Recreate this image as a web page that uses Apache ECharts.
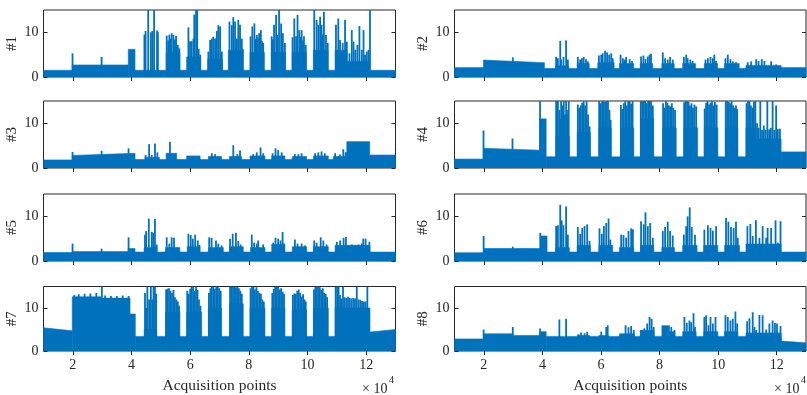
<!DOCTYPE html>
<html>
<head>
<meta charset="utf-8">
<script src="https://cdn.jsdelivr.net/npm/echarts@6/dist/echarts.min.js"></script>
<style>
  html, body { margin: 0; padding: 0; background: #ffffff; }
  #chart { width: 807px; height: 395px; }
</style>
</head>
<body>
<div id="chart"></div>
<script>
// Eight EMG channels, amplitude vs. acquisition point index.
// Positions are given in thousands of acquisition points.
// *Fill: [start, end, level, endLevel?] solid bands of the dense signal
//        (endLevel given where the band drifts linearly).
// *Peaks: [position, amplitude] individual spikes above the band.

const xTickValues = [20000, 40000, 60000, 80000, 100000, 120000];
const yTickValues = [0, 10];
const channelNames = ['#1', '#2', '#3', '#4', '#5', '#6', '#7', '#8'];

const ch1Fill = [[10,19.8,1.5],[19.8,38.9,2.7],[38.9,41.2,6.2],[41.2,130,1.5],
  [51.8,56.5,5.5],[58.8,63.6,4.5],[66.0,71.0,4],[73.0,78.1,6],[80.4,85.3,5.5],[87.8,92.5,5.5],
  [94.8,99.6,5.5],[102,107,6],[109.4,113.5,6],[113.5,121.2,3.5]];
const ch1Peaks = [[19.9,5.3],[29.8,4.5],
  [44.4,9.5],[44.8,10.3],[45.7,15],[46.6,10],[47.1,10.3],[47.7,15],[48.7,10.4],[49.0,10],
  [52.0,9.25],[52.5,8.2],[52.9,9.5],[53.3,8.6],[53.7,9.8],[54.3,9.4],[54.8,8.4],[55.2,9.2],[55.8,7.2],[56.3,6.4],
  [59.4,11.1],[59.95,8],[60.5,8],[61.1,8.6],[61.4,14],[62.0,15],[62.4,15],[62.9,6.3],[63.4,5.0],
  [66.2,5.7],[66.8,8.3],[67.4,8.6],[67.9,9.0],[68.5,8.6],[69.1,10.3],[69.6,11.6],[70.2,11.3],[70.8,5.7],
  [73.4,12.4],[74.2,11.6],[74.7,13.4],[75.3,12.4],[75.9,8.6],[76.4,12.8],[77.0,11.7],[77.6,8.6],[77.9,6.3],
  [80.6,9.1],[81.2,11.3],[81.9,12.0],[82.3,8.5],[82.7,9.4],[83.1,8.8],[83.5,9.8],[84.1,10.5],[84.5,8.0],[84.9,7.6],
  [87.8,9.1],[88.2,8.4],[88.6,11.7],[89.3,13.9],[89.8,9.4],[90.3,15],[91.0,12],[91.6,9.8],[92.3,7.6],
  [94.9,8.9],[95.5,13.1],[96.1,9.1],[96.6,13.9],[97.2,10.5],[97.6,9.0],[98.0,10.5],[98.4,8.2],[98.8,9.1],[99.4,7.2],
  [102.3,15],[103.1,12.8],[103.7,11.7],[104.3,13.5],[104.8,11.7],[105.2,9.5],[105.6,14.6],[106.3,9.4],[106.9,7.6],
  [109.7,11.7],[110.5,13.1],[111.1,8.3],[112.0,7.6],[112.8,12.8],[113.4,7.9],[114.3,5.3],[115.1,10.5],
  [115.7,7.9],[116.3,6.1],[117.0,7.2],[117.7,11.4],[118.5,6.1],[119.1,10.5],[119.6,5.0],[120.2,5.7],
  [120.8,6.1],[121.3,15]];

const ch2Fill = [[10,19.9,2.1],[19.9,40.7,3.8,3.2],[40.7,121.5,1.9],[121.5,130,2.1],
  [44.5,49,2.5],[51.9,56,3],[58.9,64.5,3.2],[66.3,71.2,3],[73.4,77.7,3],[80.8,85,3],[87.9,92.3,3],
  [95.3,99.8,3],[102.2,107.2,3],[109.5,121.5,2.6]];
const ch2Peaks = [[29.9,4.4],
  [44.7,4.5],[45.3,4.2],[46.1,8.1],[46.4,3.9],[47.2,4.5],[48.1,8.2],[48.7,3.9],
  [52.1,4.5],[52.9,3.9],[53.5,4.2],[54.1,4.5],[54.9,4.0],[55.5,3.5],
  [59.3,4.8],[60.1,5.0],[60.6,5.3],[61.4,5.9],[62.1,5.5],[62.8,5.0],[63.5,5.3],[64.0,4.2],
  [66.7,5.0],[67.5,4.2],[68.1,3.9],[68.6,4.5],[69.8,4.0],[70.6,3.6],
  [73.7,4.6],[74.5,4.8],[75.2,4.0],[76.0,4.6],[76.6,5.0],[77.1,5.2],
  [81.1,5.5],[81.9,4.2],[82.8,3.9],[83.6,4.5],[84.5,3.9],
  [88.3,4.5],[89.1,5.0],[89.6,4.2],[90.5,3.9],[91.3,3.6],
  [95.7,3.9],[96.5,4.2],[97.4,4.5],[98.2,4.2],[98.7,5.0],[99.3,3.6],
  [102.5,4.2],[103.3,5.0],[104.2,4.0],[105.0,3.5],[106.1,3.3],
  [110.1,3.3],[111.3,3.5],[113.0,4.0],[113.8,3.6],[114.9,4.0],[115.8,3.6],[118.1,3.5],[119.8,2.8]];

const ch3Fill = [[10,19.8,1.8],[19.8,41.2,2.8,3.3],[41.2,121.2,1.9],[121.2,130,2.9],
  [44.6,49.5,2.4],[51.8,55.4,3.3],[58.8,63.4,2.7],[66.2,70.7,2.6],[73.4,77.5,2.6],[80.4,85.5,2.7],
  [87.8,92.3,2.7],[94.8,99.7,2.6],[102,107.1,2.7],[108.8,112.8,2.6],[112.8,113.4,3.5],[113.4,121.2,5.9]];
const ch3Peaks = [[19.9,3.6],[29.8,3.85],[39.0,4.4],
  [44.8,2.9],[46.0,5.3],[46.9,2.9],[48.0,5.5],[48.8,3.5],[53.1,5.9],
  [67.4,3.3],[68.5,3.1],[74.7,5.1],[76.1,3.1],[77.0,3.9],
  [81.5,3.1],[82.7,3.5],[84.0,4.6],[84.9,3.3],
  [88.1,3.3],[89.1,4.4],[90.0,4.0],[91.2,3.5],
  [95.7,3.1],[96.9,3.1],[98.0,3.3],
  [102.6,3.3],[103.7,3.5],[104.8,3.7],[105.9,3.3],
  [109.4,3.3],[111.1,3.0],[112.2,4.2]];

const ch4Fill = [[10,19.9,2.0],[19.9,39.1,4.4,4.0],[39.1,41.3,11.0],[41.3,121.5,2.5],[121.5,130,3.6],
  [44.6,49.2,7],[51.9,56.4,8],[59.3,63.5,9],[66.7,71.2,9],[73.5,78.0,11],[81.1,85.7,9],
  [88.3,93.0,9],[95.3,99.9,9],[102.5,106.7,9],[109.5,113,9],[113,121.5,6.5]];
const ch4Peaks = [[19.9,8.4],[29.8,6.6],[39.2,15],
  [44.7,15],[45.0,12],[45.3,15],[45.8,13],[46.1,11],[46.4,15],[47.0,14],[47.3,15],[47.7,12],[48.1,15],[48.4,13],[48.7,12],[49.0,15],
  [52.1,14.2],[52.6,13.5],[53.1,14.0],[53.6,14.6],[54.1,15],[54.6,14.0],[55.1,15],[55.6,12],[56.1,9.3],
  [59.4,15],[59.9,14.5],[60.4,15],[60.9,15],[61.4,14.8],[61.9,15],[62.4,15],[62.9,13],[63.3,10.8],
  [66.8,14.1],[67.3,13.2],[67.8,14.5],[68.3,15],[68.8,14.0],[69.3,15],[69.8,15],[70.3,14.4],[70.8,15],
  [73.6,15],[74.1,15],[74.6,15],[75.1,15],[75.6,14.5],[76.1,15],[76.6,15],[77.1,15],[77.7,14],
  [81.2,14.5],[81.7,13.5],[82.2,15],[82.7,14.6],[83.2,14.0],[83.7,13.8],[84.2,14.5],[84.7,13.5],[85.3,13.0],
  [88.4,14.7],[88.9,15],[89.4,15],[89.9,14.8],[90.4,14.0],[90.9,14.5],[91.4,13.5],[91.9,14.2],[92.5,13.8],
  [95.4,13.3],[95.9,14.6],[96.4,15],[96.9,14.2],[97.4,14.6],[97.9,15],[98.4,14.0],[98.9,14.8],[99.5,14.2],
  [102.6,15],[103.1,15],[103.6,14.8],[104.1,14.5],[104.6,15],[105.1,14],[105.6,13.5],[106.1,14],[106.5,13.2],
  [109.7,14.5],[110.2,15],[110.7,15],[111.2,14.0],[111.7,13.5],[112.2,14.8],[112.7,15],[113.3,10],[113.8,9],
  [114.4,15],[115.0,8.5],[115.6,9.5],[116.2,8.6],[116.8,15],[117.4,8.6],[118.0,9.0],[118.6,15],[119.2,8.5],
  [119.8,14],[120.4,8.7],[121.1,8.8]];

const ch5Fill = [[10,19.8,1.9],[19.8,38.9,2.1],[38.9,41.2,2.8],[41.2,130,2.0],
  [44.3,48.6,3],[51.6,56.5,3],[59,63.4,3.2],[66.2,71.3,3],[73.4,78.1,3.2],[80.6,85.5,3],
  [87.8,92.3,3.7],[94.8,99.7,3.2],[102,107.1,3.2],[109.4,121.3,3.5]];
const ch5Peaks = [[19.9,3.9],[29.8,2.75],[39.0,5.3],
  [44.6,5.9],[45.0,6.7],[45.9,9.5],[46.9,6.5],[47.4,6.3],[48.0,9.4],[48.6,3.7],
  [52.0,5.3],[52.9,3.9],[53.7,5.3],[54.5,5.2],[55.4,3.0],
  [59.4,6.1],[60.2,5.8],[60.9,5.0],[61.7,5.9],[62.6,4.6],[63.1,3.6],
  [66.5,5.3],[67.3,5.2],[68.8,4.6],[69.6,3.9],[70.7,3.5],
  [73.6,5.0],[74.5,6.1],[75.6,6.3],[76.4,4.5],[77.2,3.7],
  [81.0,5.9],[81.8,4.1],[82.7,3.9],[83.2,4.6],[84.9,3.7],
  [88.3,4.1],[89.1,5.2],[90.0,5.0],[90.8,4.6],[91.5,6.5],[92.0,3.9],
  [95.7,4.8],[96.6,3.9],[98.0,3.9],[99.1,3.5],
  [102.3,4.6],[103.1,4.1],[104.5,5.3],[105.4,4.6],[106.5,3.7],
  [110.0,4.3],[111.1,4.6],[112.3,5.2],[113.1,5.4],[114.0,3.5],[115.1,3.7],[116.3,3.6],[117.4,3.7],
  [118.5,3.9],[119.0,5.0],[119.8,5.0],[121.1,4.3]];

const ch6Fill = [[10,19.9,1.85],[19.9,39.3,2.8],[39.3,41.6,5.6],[41.6,130,2.0],
  [44.5,49.2,3],[51.9,56.4,3.5],[59.3,64,3.5],[66.3,71.2,3],[73.5,78,3.5],[80.8,85.1,3],
  [87.9,92.8,3.5],[95.1,99.9,3.5],[102.2,107.3,3.5],[109.5,121.5,3.8]];
const ch6Peaks = [[19.95,5.6],[29.9,3.2],[39.3,6.3],
  [44.7,7.8],[45.3,8.0],[46.1,12.6],[46.6,9.1],[47.2,8.0],[48.1,12.2],[48.7,5.9],
  [52.1,7.6],[52.9,6.1],[53.6,7.4],[54.4,7.8],[55.3,8.2],[56.1,4.5],
  [59.5,7.3],[60.3,6.1],[61.0,7.8],[61.8,8.5],[62.6,9.5],[63.2,4.8],
  [66.9,5.9],[67.7,5.8],[68.6,5.2],[69.4,6.7],[70.3,7.3],[70.9,7.1],
  [73.7,8.9],[74.6,8.2],[75.2,10.9],[76.0,7.8],[76.8,8.5],[77.7,5.2],
  [81.1,6.7],[81.9,7.6],[82.8,8.8],[83.6,6.7],[84.5,5.7],
  [88.3,5.9],[89.1,7.8],[89.6,10.0],[90.3,12.0],[91.0,7.6],[92.1,5.9],
  [95.3,7.0],[96.5,8.0],[97.4,7.4],[98.2,6.8],[99.3,7.8],
  [102.7,9.7],[103.5,8.8],[104.4,7.6],[105.3,7.4],[106.1,8.8],[106.7,5.2],
  [110.0,7.8],[111.0,8.3],[111.8,5.6],[112.9,9.1],[114.1,5.2],[115.2,7.8],[116.4,5.2],[116.9,7.4],
  [118.1,7.4],[119.6,9.1],[120.4,4.1],[121.3,8.9]];

const ch7Fill = [[10,19.8,5.4,4.7],[19.8,29.8,12.6],[29.8,39.5,12.3],[39.5,41.3,8.6],
  [41.3,121.3,3.4],[121.3,130,4.4,5.0],
  [44.3,48.6,5],[51.6,56.5,9],[58.8,63.9,9],[66.2,70.7,10],[73.4,78.1,11],[80.4,85.5,10],
  [87.8,92.3,10],[94.8,99.7,9.5],[102,107.1,10],[109.4,121.3,10]];
const ch7Peaks = [[20.5,13.0],[22,13.2],[24,13.3],[26,13.4],[28,13.5],[29.9,15],[31,12.9],[33,12.8],[35,12.8],[37,12.9],[39,12.8],
  [44.6,13.5],[45.0,10],[45.4,15],[46.0,12],[46.6,15],[47.1,12],[47.5,15],[48.0,15],[48.4,13.3],
  [51.8,14.3],[52.3,14.5],[52.8,14.6],[53.3,14.0],[53.8,13.5],[54.3,14.2],[54.8,12.5],[55.3,12],[55.8,11.5],[56.2,10.5],
  [59.0,14.0],[59.5,13.3],[60.0,14.5],[60.5,15],[61.0,15],[61.5,14],[62.0,15],[62.5,14.2],[63.0,12],[63.5,10.5],
  [66.4,13.5],[66.9,14.6],[67.4,15],[67.9,15],[68.4,14.5],[68.9,15],[69.4,15],[69.9,14.6],[70.4,14],
  [73.6,15],[74.1,15],[74.6,15],[75.1,15],[75.6,14.8],[76.1,15],[76.6,14.6],[77.1,14],[77.6,13.3],
  [80.6,14.6],[81.1,15],[81.6,15],[82.1,14.3],[82.6,14.8],[83.1,14],[83.6,13.5],[84.1,13.3],[84.6,12],[85.1,11.5],
  [88.0,13.5],[88.5,14.5],[89.0,15],[89.5,15],[90.0,15],[90.5,14.3],[91.0,14.6],[91.5,13.8],[92.0,13.3],
  [95.0,13.0],[95.5,13.4],[96.0,13.3],[96.5,14.0],[97.0,14.3],[97.5,13.5],[98.0,12.7],[98.5,13.2],[99.0,12],[99.4,11.5],
  [102.2,14.3],[102.7,15],[103.2,15],[103.7,15],[104.2,14.8],[104.7,14.2],[105.2,14.6],[105.7,13.5],[106.2,13.3],[106.7,12.5],
  [109.6,15],[110.1,15],[110.6,15],[111.1,13],[111.6,12.2],[112.1,15],[112.6,12.5],[113.2,12.4],[113.8,12.6],
  [114.4,12.4],[115.0,12.2],[115.6,12.3],[116.2,12.2],[116.8,15],[117.4,12.0],[118.0,11.9],[118.6,11.6],
  [119.2,11.5],[119.8,11.5],[120.4,15],[121.0,8.6]];

const ch8Fill = [[10,19.9,2.8],[19.9,29.9,4.0],[29.9,39.2,3.6],[39.2,41.3,4.5],[41.3,121.5,3.4],[121.5,130,2.3,1.9],
  [51.9,56.1,3.6],[59.3,62.6,3.6],[66.3,71.4,4.0],[73.4,78.1,4.8],[80.8,83.4,5.9],[83.4,85.2,4.5],
  [87.9,92.5,4.5],[95.1,99.9,4.5],[102.2,106.7,4.5],[109.5,121.5,4.2]];
const ch8Peaks = [[19.95,5.0],[29.9,5.6],[39.2,5.25],
  [45.8,7.3],[48.1,7.5],
  [52.3,3.9],[53.2,4.3],[54.4,4.1],[55.3,4.5],
  [60.1,4.5],[61.8,5.6],[62.3,6.0],
  [68.4,6.0],[69.4,5.5],[70.3,5.8],[71.2,4.9],
  [73.7,4.9],[74.8,5.3],[75.8,6.4],[76.6,7.9],[77.3,7.5],[78.0,5.6],
  [84.0,5.6],[85.1,4.9],
  [88.5,7.9],[89.3,6.5],[90.2,7.1],[90.8,6.7],[91.6,8.8],[92.1,5.6],
  [95.3,7.9],[95.9,8.3],[96.7,6.0],[97.4,7.9],[98.2,6.4],[99.1,7.9],
  [102.5,8.3],[103.3,7.9],[104.2,7.1],[105.0,7.5],[105.9,9.2],[106.5,6.4],
  [109.9,6.9],[110.7,7.6],[111.8,9.0],[112.4,5.6],[113.0,4.9],[114.1,8.4],[115.2,8.3],[116.4,5.0],
  [117.5,6.4],[118.6,7.1],[119.4,6.5],[120.1,6.4],[121.3,5.8]];

const channelFills = [ch1Fill, ch2Fill, ch3Fill, ch4Fill, ch5Fill, ch6Fill, ch7Fill, ch8Fill];
const channelPeaks = [ch1Peaks, ch2Peaks, ch3Peaks, ch4Peaks, ch5Peaks, ch6Peaks, ch7Peaks, ch8Peaks];

const BLUE = '#0072BD';
const INK = '#262626';
const FONT = 'Liberation Serif';
const X_MIN = 10000, X_MAX = 130000, Y_MAX = 15;

const colLeft = [43.5, 454.5];
const colWidth = [352, 351.5];
const rowTop = [10, 101, 194, 286.5];
const plotHeight = 67;

function renderBand(params, api) {
  const x0 = api.value(0), x1 = api.value(1);
  const a = api.coord([x0, Math.min(api.value(2), Y_MAX)]);
  const b = api.coord([x1, Math.min(api.value(3), Y_MAX)]);
  const a0 = api.coord([x0, 0]);
  const b0 = api.coord([x1, 0]);
  return {
    type: 'polygon',
    shape: { points: [a0, a, b, b0] },
    // thin same-colour stroke closes anti-aliasing seams between adjacent bands
    style: { fill: BLUE, stroke: BLUE, lineWidth: 0.6 }
  };
}

function renderSpike(params, api) {
  const x = api.value(0);
  const a = api.coord([x, 0]);
  const b = api.coord([x, Math.min(api.value(1), Y_MAX)]);
  return {
    type: 'line',
    shape: { x1: a[0], y1: a[1], x2: b[0], y2: b[1] },
    style: { stroke: BLUE, lineWidth: 1.8 }
  };
}

const grids = [], xAxes = [], yAxes = [], series = [];

channelNames.forEach((name, i) => {
  const col = i % 2, row = Math.floor(i / 2);
  const bottomRow = row === 3;
  grids.push({
    left: colLeft[col], width: colWidth[col], top: rowTop[row], height: plotHeight,
    show: true, borderColor: INK, borderWidth: 1, backgroundColor: 'transparent'
  });
  const tick = { show: true, inside: true, length: 4, customValues: xTickValues, lineStyle: { color: INK, width: 1 } };
  xAxes.push({
    type: 'value', gridIndex: i, min: X_MIN, max: X_MAX, position: 'bottom',
    axisLine: { show: false }, splitLine: { show: false }, axisTick: tick,
    axisLabel: {
      show: bottomRow, customValues: xTickValues, margin: 7,
      formatter: v => String(v / 10000),
      color: INK, fontFamily: FONT, fontSize: 14
    },
    name: bottomRow ? 'Acquisition points' : '', nameLocation: 'middle', nameGap: 27,
    nameTextStyle: { color: INK, fontFamily: FONT, fontSize: 15.5 }
  });
  xAxes.push({
    type: 'value', gridIndex: i, min: X_MIN, max: X_MAX, position: 'top',
    axisLine: { show: false }, splitLine: { show: false }, axisTick: tick,
    axisLabel: { show: false }
  });
  const ytick = { show: true, inside: true, length: 4, customValues: yTickValues, lineStyle: { color: INK, width: 1 } };
  yAxes.push({
    type: 'value', gridIndex: i, min: 0, max: Y_MAX, position: 'left',
    axisLine: { show: false }, splitLine: { show: false }, axisTick: ytick,
    axisLabel: { customValues: yTickValues, margin: 5, color: INK, fontFamily: FONT, fontSize: 14 },
    name: name, nameLocation: 'middle', nameRotate: 90, nameGap: 24,
    nameTextStyle: { color: INK, fontFamily: FONT, fontSize: 15 }
  });
  yAxes.push({
    type: 'value', gridIndex: i, min: 0, max: Y_MAX, position: 'right',
    axisLine: { show: false }, splitLine: { show: false }, axisTick: ytick,
    axisLabel: { show: false }
  });
  series.push({
    type: 'custom', name: name + ' band', xAxisIndex: 2 * i, yAxisIndex: 2 * i,
    clip: true, silent: true, renderItem: renderBand,
    encode: { x: [0, 1], y: [2, 3] },
    data: channelFills[i].map(s => [s[0] * 1000, s[1] * 1000, s[2], s.length > 3 ? s[3] : s[2]])
  });
  series.push({
    type: 'custom', name: name + ' spikes', xAxisIndex: 2 * i, yAxisIndex: 2 * i,
    clip: true, silent: true, renderItem: renderSpike,
    encode: { x: 0, y: 1 },
    data: channelPeaks[i].map(p => [p[0] * 1000, p[1]])
  });
});

// Axis exponent markers under the bottom-right corner of each column
function exponentMark(x) {
  return [
    { type: 'text', left: x, top: 382, style: { text: '× 10', fill: INK, font: '14px "' + FONT + '"' } },
    { type: 'text', left: x + 27, top: 375, style: { text: '4', fill: INK, font: '10px "' + FONT + '"' } }
  ];
}

const chart = echarts.init(document.getElementById('chart'), null, { renderer: 'canvas' });
chart.setOption({
  backgroundColor: '#ffffff',
  animation: false,
  grid: grids,
  xAxis: xAxes,
  yAxis: yAxes,
  series: series,
  graphic: exponentMark(362).concat(exponentMark(774))
});
</script>
</body>
</html>
